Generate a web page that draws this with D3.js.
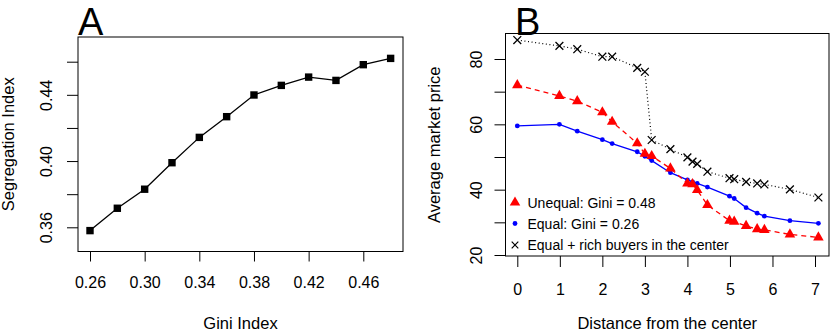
<!DOCTYPE html>
<html>
<head>
<meta charset="utf-8">
<script src="https://cdn.jsdelivr.net/npm/d3@7"></script>
<style>
  body { margin: 0; background: #fff; }
  svg { display: block; font-family: "Liberation Sans", Arial, Helvetica, sans-serif; }
  .axis text { font-size: 16px; fill: #000; }
  .axis line { stroke: #000; stroke-width: 1; }
  .title { font-size: 16.5px; fill: #000; }
</style>
</head>
<body>
<svg width="831" height="330"></svg>
<script>
// panel A
const giniIndex = [0.26, 0.28, 0.30, 0.32, 0.34, 0.36, 0.38, 0.40, 0.42, 0.44, 0.46, 0.48];
const segregation = [0.358, 0.3715, 0.383, 0.399, 0.4143, 0.4268, 0.4399, 0.4457, 0.4507, 0.4487, 0.4582, 0.462];
const giniTicks = [0.26, 0.30, 0.34, 0.38, 0.42, 0.46];
const segTicks = [0.36, 0.38, 0.40, 0.42, 0.44, 0.46];
const segLabels = [0.36, 0.40, 0.44];

// panel B
const distance = [0, 0.99, 1.41, 2.0, 2.23, 2.82, 3.0, 3.16, 3.6, 4.0, 4.12, 4.23, 4.47, 4.99, 5.1, 5.38, 5.64, 5.81, 6.41, 7.08];
const unequal = [72.0, 68.7, 67.1, 63.7, 60.8, 54.2, 51.0, 50.3, 46.5, 41.9, 41.7, 39.9, 35.3, 30.5, 30.2, 28.9, 27.9, 27.7, 26.3, 25.4];
const equal = [59.5, 60.0, 57.9, 55.3, 54.1, 51.6, 50.2, 48.9, 45.2, 43.0, 42.4, 41.9, 40.8, 38.0, 37.3, 34.5, 32.8, 31.9, 30.5, 29.7];
const richCenter = [85.8, 84.0, 83.0, 80.7, 80.7, 77.3, 76.1, 55.2, 52.4, 49.9, 48.6, 47.9, 45.5, 43.5, 43.2, 42.4, 41.9, 41.6, 40.1, 37.6];
const distTicks = [0, 1, 2, 3, 4, 5, 6, 7];
const priceTicks = [20, 30, 40, 50, 60, 70, 80];
const priceLabels = [20, 40, 60, 80];
const legendLabels = ["Unequal: Gini = 0.48", "Equal: Gini = 0.26", "Equal + rich buyers in the center"];

const svg = d3.select("svg");

function rotateYLabels(g, off) {
    g.selectAll(".tick text")
        .attr("x", 0).attr("y", 0).attr("dy", 0)
        .attr("text-anchor", "middle")
        .attr("transform", "translate(" + (-off) + ",0) rotate(-90)");
}

// ---------- A ----------
const boxA = {l: 78, r: 403, t: 37, b: 251.5};
const xA = d3.scaleLinear().domain([0.26, 0.46]).range([90, 363.3]);
const yA = d3.scaleLinear().domain([0.36, 0.46]).range([227.3, 61.7]);

svg.append("g").attr("class", "axis")
    .attr("transform", "translate(0," + boxA.b + ")")
    .call(d3.axisBottom(xA).tickValues(giniTicks).tickSize(10).tickPadding(15.5)
        .tickFormat(d3.format(".2f")))
    .call(g => g.select(".domain").remove());

svg.append("g").attr("class", "axis")
    .attr("transform", "translate(" + boxA.l + ",0)")
    .call(d3.axisLeft(yA).tickValues(segTicks).tickSize(11)
        .tickFormat(d => segLabels.some(v => Math.abs(v - d) < 1e-9) ? d3.format(".2f")(d) : ""))
    .call(g => g.select(".domain").remove())
    .call(g => rotateYLabels(g, 26.3));

svg.append("rect")
    .attr("x", boxA.l).attr("y", boxA.t)
    .attr("width", boxA.r - boxA.l).attr("height", boxA.b - boxA.t)
    .attr("fill", "none").attr("stroke", "#000").attr("stroke-width", 1);

svg.append("path")
    .datum(giniIndex.map((g, i) => [g, segregation[i]]))
    .attr("fill", "none").attr("stroke", "#000").attr("stroke-width", 1.3)
    .attr("d", d3.line().x(d => xA(d[0])).y(d => yA(d[1])));

svg.append("g").selectAll("rect")
    .data(giniIndex.map((g, i) => [g, segregation[i]]))
    .enter().append("rect")
    .attr("x", d => xA(d[0]) - 3.7).attr("y", d => yA(d[1]) - 3.7)
    .attr("width", 7.4).attr("height", 7.4)
    .attr("fill", "#000");

svg.append("text").attr("class", "title")
    .attr("x", (boxA.l + boxA.r) / 2).attr("y", 328.5)
    .attr("text-anchor", "middle").text("Gini Index");

svg.append("text").attr("class", "title")
    .attr("text-anchor", "middle")
    .attr("transform", "translate(13.5," + (boxA.t + boxA.b) / 2 + ") rotate(-90)")
    .text("Segregation Index");

svg.append("text")
    .attr("x", 78).attr("y", 34.5)
    .attr("font-size", 38).text("A");

// ---------- B ----------
const boxB = {l: 505.5, r: 829, t: 33.5, b: 256};
const xB = d3.scaleLinear().domain([0, 7]).range([517.3, 815]);
const yB = d3.scaleLinear().domain([20, 80]).range([255, 59]);

svg.append("g").attr("class", "axis")
    .attr("transform", "translate(0," + boxB.b + ")")
    .call(d3.axisBottom(xB).tickValues(distTicks).tickSize(11).tickPadding(16.5)
        .tickFormat(d3.format("d")))
    .call(g => g.select(".domain").remove());

svg.append("g").attr("class", "axis")
    .attr("transform", "translate(" + boxB.l + ",0)")
    .call(d3.axisLeft(yB).tickValues(priceTicks).tickSize(11)
        .tickFormat(d => priceLabels.includes(d) ? d : ""))
    .call(g => g.select(".domain").remove())
    .call(g => rotateYLabels(g, 23.8));

svg.append("rect")
    .attr("x", boxB.l).attr("y", boxB.t)
    .attr("width", boxB.r - boxB.l).attr("height", boxB.b - boxB.t)
    .attr("fill", "none").attr("stroke", "#000").attr("stroke-width", 1);

const lineB = d3.line().x(d => xB(d[0])).y(d => yB(d[1]));
const richData = distance.map((x, i) => [x, richCenter[i]]);
const equalData = distance.map((x, i) => [x, equal[i]]);
const unequalData = distance.map((x, i) => [x, unequal[i]]);

// black dotted: rich buyers in center
svg.append("path").datum(richData)
    .attr("fill", "none").attr("stroke", "#000").attr("stroke-width", 1.2)
    .attr("stroke-dasharray", "1,2.6").attr("d", lineB);

function drawX(sel, cx, cy, s, w) {
    sel.append("path")
        .attr("d", "M" + (cx - s) + "," + (cy - s) + "L" + (cx + s) + "," + (cy + s) +
                   "M" + (cx - s) + "," + (cy + s) + "L" + (cx + s) + "," + (cy - s))
        .attr("stroke", "#000").attr("stroke-width", w).attr("fill", "none");
}
const xMarks = svg.append("g");
richData.forEach(d => drawX(xMarks, xB(d[0]), yB(d[1]), 3.9, 1.3));

// blue solid: equal
svg.append("path").datum(equalData)
    .attr("fill", "none").attr("stroke", "#0000ff").attr("stroke-width", 1.3)
    .attr("d", lineB);
svg.append("g").selectAll("circle")
    .data(equalData).enter().append("circle")
    .attr("cx", d => xB(d[0])).attr("cy", d => yB(d[1]))
    .attr("r", 2.4).attr("fill", "#0000ff");

// red dashed: unequal
svg.append("path").datum(unequalData)
    .attr("fill", "none").attr("stroke", "#ff0000").attr("stroke-width", 1.3)
    .attr("stroke-dasharray", "5,4").attr("d", lineB);
const tri = d3.symbol().type(d3.symbolTriangle).size(48);
svg.append("g").selectAll("path")
    .data(unequalData).enter().append("path")
    .attr("d", tri)
    .attr("transform", d => "translate(" + xB(d[0]) + "," + yB(d[1]) + ")")
    .attr("fill", "#ff0000");

// legend
const legY = [202.5, 223.5, 245];
const leg = svg.append("g");
leg.selectAll("text").data(legendLabels).enter().append("text")
    .attr("x", 527.5).attr("y", (d, i) => legY[i] + 5)
    .attr("font-size", 14).text(d => d);
leg.append("path").attr("d", tri)
    .attr("transform", "translate(515," + legY[0] + ")").attr("fill", "#ff0000");
leg.append("circle").attr("cx", 515).attr("cy", legY[1]).attr("r", 2.4).attr("fill", "#0000ff");
drawX(leg, 515, legY[2], 3.3, 1.2);

svg.append("text").attr("class", "title")
    .attr("x", (boxB.l + boxB.r) / 2).attr("y", 328.5)
    .attr("text-anchor", "middle").text("Distance from the center");

svg.append("text").attr("class", "title")
    .attr("text-anchor", "middle")
    .attr("transform", "translate(440," + (boxB.t + boxB.b) / 2 + ") rotate(-90)")
    .text("Average market price");

svg.append("text")
    .attr("x", 515).attr("y", 34.5)
    .attr("font-size", 38).text("B");
</script>
</body>
</html>
